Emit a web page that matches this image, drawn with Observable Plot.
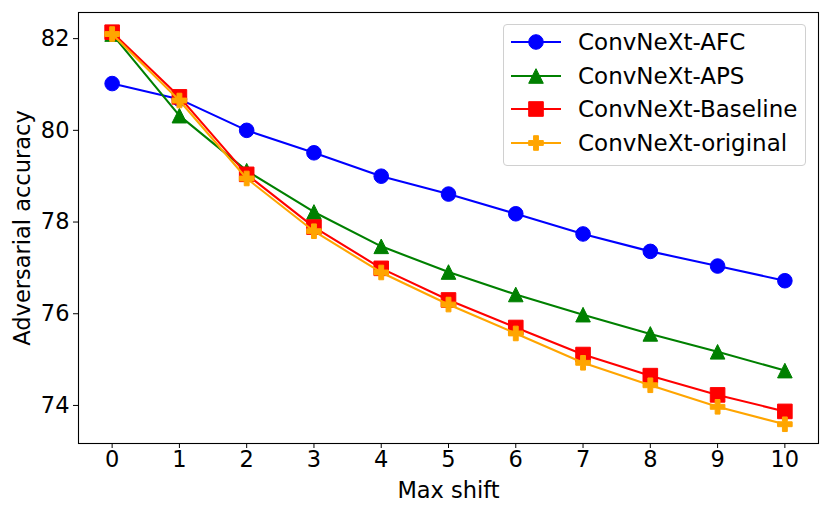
<!DOCTYPE html>
<html>
<head>
<meta charset="utf-8">
<script src="https://cdn.jsdelivr.net/npm/d3@7"></script>
<script src="https://cdn.jsdelivr.net/npm/@observablehq/plot@0.6"></script>
<style>
  body { margin: 0; background: #fff; }
  #wrap { position: relative; width: 830px; height: 515px; font-family: "DejaVu Sans", sans-serif; }
  #legend { position: absolute; left: 503px; top: 24px; width: 303px; height: 142px; box-sizing: border-box;
    border: 1px solid #d0d0d0; border-radius: 4px; background: rgba(255,255,255,0.8); }
  .row { position: absolute; left: 0; height: 30px; display: flex; align-items: center; }
  .row svg { margin-left: 7px; }
  .row span { margin-left: 17px; font-size: 23px; color: #000; white-space: nowrap; }
</style>
</head>
<body>
<div id="wrap"><div id="chart"></div><div id="legend"></div></div>
<script>
const shifts = [0, 1, 2, 3, 4, 5, 6, 7, 8, 9, 10];
const afc      = [81.02, 80.68, 80.00, 79.51, 79.00, 78.61, 78.18, 77.74, 77.36, 77.04, 76.72];
const aps      = [82.10, 80.32, 79.12, 78.22, 77.47, 76.91, 76.42, 75.98, 75.56, 75.17, 74.76];
const baseline = [82.14, 80.73, 79.04, 77.89, 76.99, 76.30, 75.70, 75.11, 74.65, 74.23, 73.87];
const original = [82.10, 80.65, 78.95, 77.80, 76.90, 76.20, 75.57, 74.93, 74.44, 73.97, 73.59];
const seriesNames = ["ConvNeXt-AFC", "ConvNeXt-APS", "ConvNeXt-Baseline", "ConvNeXt-original"];
const seriesColors = ["blue", "green", "red", "orange"];
const yTicks = [74, 76, 78, 80, 82];

// custom marker shapes (size = pi r^2 as passed by Plot)
const triangleUp = { draw(ctx, size) { const h = Math.sqrt(size / Math.PI); ctx.moveTo(0, -h); ctx.lineTo(h, h); ctx.lineTo(-h, h); ctx.closePath(); } };
const squareSym = { draw(ctx, size) { const h = Math.sqrt(size / Math.PI); ctx.rect(-h, -h, 2 * h, 2 * h); } };
const plusFilled = { draw(ctx, size) { const h = Math.sqrt(size / Math.PI), t = h / 3;
  ctx.moveTo(-t, -h); ctx.lineTo(t, -h); ctx.lineTo(t, -t); ctx.lineTo(h, -t); ctx.lineTo(h, t); ctx.lineTo(t, t);
  ctx.lineTo(t, h); ctx.lineTo(-t, h); ctx.lineTo(-t, t); ctx.lineTo(-h, t); ctx.lineTo(-h, -t); ctx.lineTo(-t, -t); ctx.closePath(); } };
const seriesSymbols = ["circle", triangleUp, squareSym, plusFilled];
const seriesR = [7.3, 7.3, 7.3, 7.3];

const allValues = [afc, aps, baseline, original];
const marks = [];
allValues.forEach((vals, i) => {
  const data = shifts.map((s, j) => ({ shift: s, acc: vals[j] }));
  marks.push(Plot.line(data, { x: "shift", y: "acc", stroke: seriesColors[i], strokeWidth: 2.1 }));
  marks.push(Plot.dot(data, { x: "shift", y: "acc", fill: seriesColors[i], stroke: seriesColors[i], strokeWidth: 1, symbol: seriesSymbols[i], r: seriesR[i] }));
});

const chart = Plot.plot({
  width: 830, height: 515,
  marginLeft: 78, marginRight: 12, marginTop: 12, marginBottom: 72,
  style: { fontFamily: "DejaVu Sans, sans-serif", fontSize: "22.5px", color: "#000", background: "#fff" },
  x: { domain: [-0.5, 10.5], ticks: shifts, tickFormat: d => String(d), tickSize: 5, tickPadding: 3,
       label: "Max shift", labelAnchor: "center", labelOffset: 54, labelArrow: "none" },
  y: { domain: [73.17, 82.57], ticks: yTicks, tickFormat: d => String(d), tickSize: 5, tickPadding: 4,
       label: "Adversarial accuracy", labelAnchor: "center", labelOffset: 64, labelArrow: "none" },
  marks: [
    ...marks,
    Plot.frame({ stroke: "#000", strokeWidth: 1.1 })
  ]
});
document.getElementById("chart").appendChild(chart);

// legend overlay
const legend = document.getElementById("legend");
const rowTops = [2, 36, 69, 103];
seriesNames.forEach((name, i) => {
  const row = document.createElement("div");
  row.className = "row";
  row.style.top = rowTops[i] + "px";
  const svg = d3.create("svg").attr("width", 50).attr("height", 30);
  svg.append("line").attr("x1", 0).attr("x2", 50).attr("y1", 15).attr("y2", 15).attr("stroke", seriesColors[i]).attr("stroke-width", 2.1);
  const sym = typeof seriesSymbols[i] === "string" ? d3.symbolCircle : seriesSymbols[i];
  svg.append("path").attr("transform", "translate(25,15)")
    .attr("d", d3.symbol(sym, Math.PI * seriesR[i] * seriesR[i])())
    .attr("fill", seriesColors[i]).attr("stroke", seriesColors[i]).attr("stroke-width", 1);
  row.appendChild(svg.node());
  const span = document.createElement("span");
  span.textContent = name;
  row.appendChild(span);
  legend.appendChild(row);
});
</script>
</body>
</html>
